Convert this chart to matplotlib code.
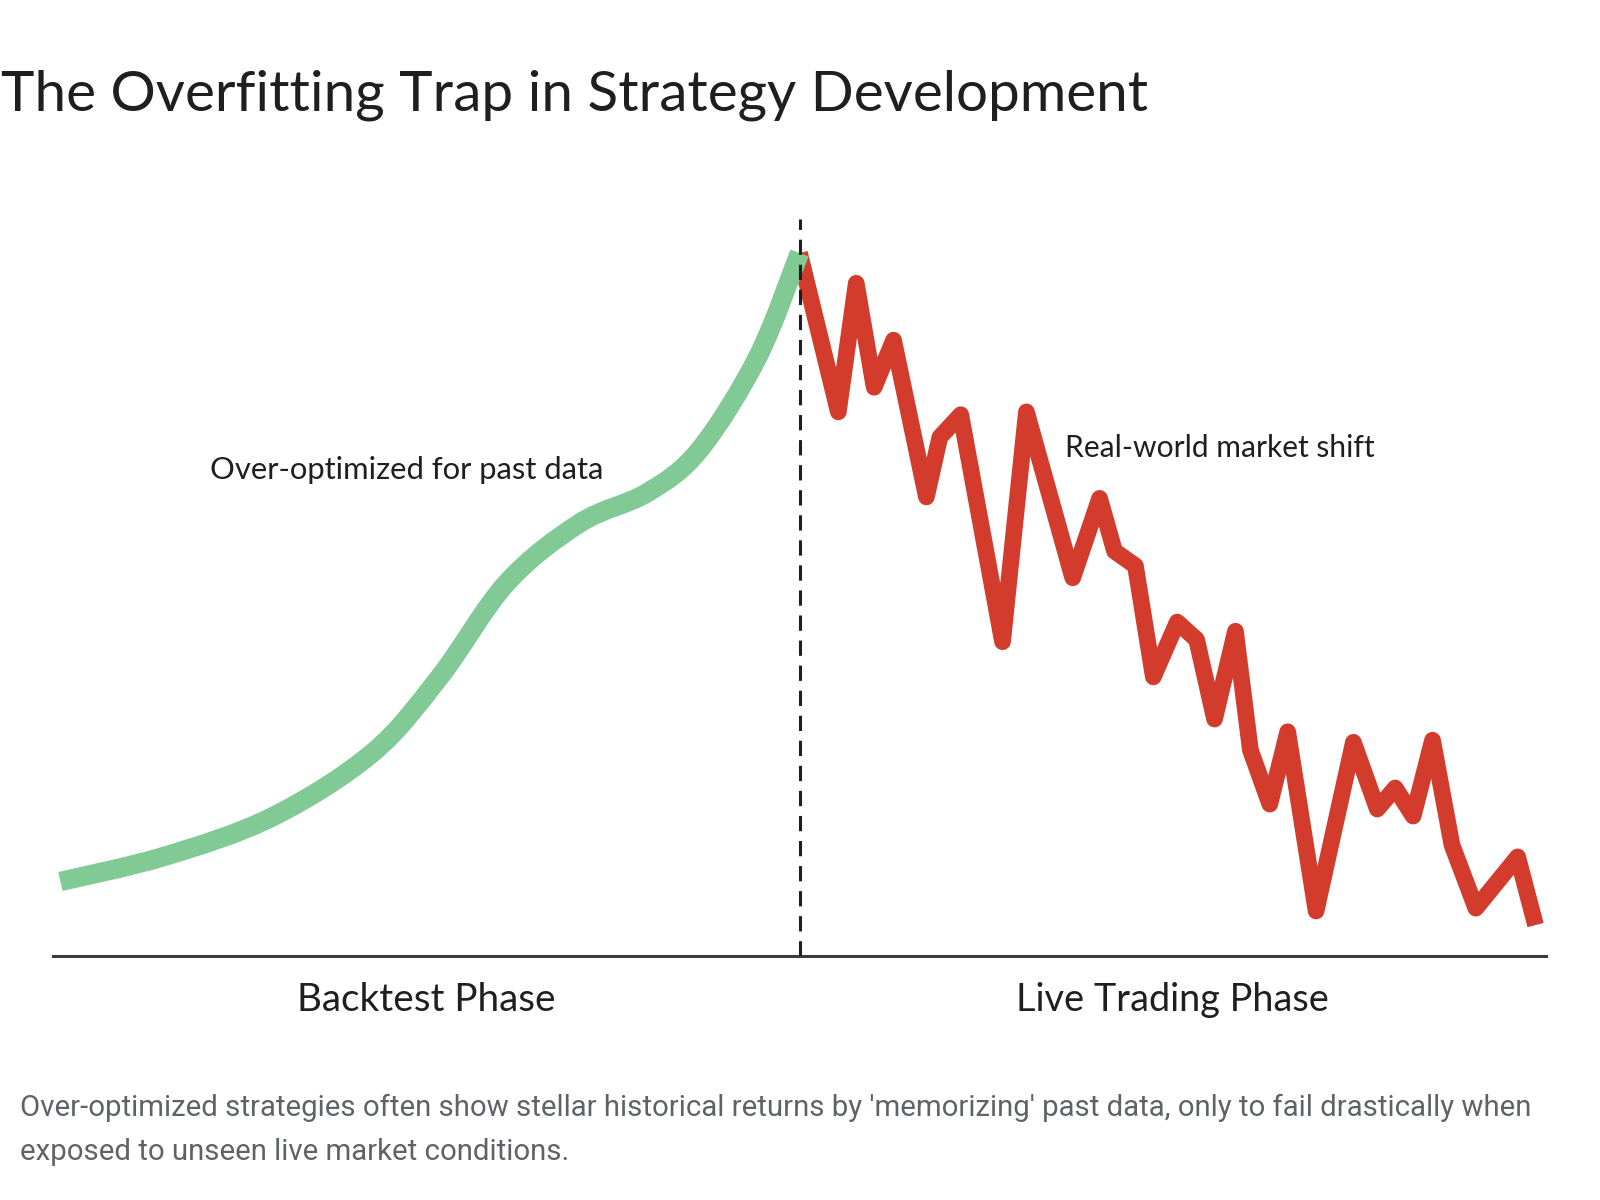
import matplotlib
matplotlib.use("Agg")
import matplotlib.pyplot as plt
from matplotlib.path import Path
from matplotlib.patches import PathPatch

# ---------------- data ----------------
# x: time (0-100, phase switch at 50), y: strategy equity (peak = 100)
backtest_x = [0.5, 7.5, 14.7, 21.4, 25.9, 30.4, 35.3, 39.8, 43.3, 47.2, 50.0]
backtest_y = [10.6, 14.2, 19.8, 28.9, 39.7, 53.1, 61.6, 65.9, 72.0, 85.2, 100.0]

live_x = [50.0, 52.6, 53.8, 55.0, 56.3, 58.5, 59.4, 60.8, 63.6, 65.2, 68.3,
          70.1, 71.1, 72.5, 73.7, 75.3, 76.6, 77.8, 79.2, 80.2, 81.5, 82.7,
          84.6, 87.1, 88.7, 89.9, 91.1, 92.4, 93.7, 95.3, 98.1, 99.3]
live_y = [100.0, 77.4, 95.7, 80.9, 87.6, 65.3, 73.8, 77.0, 44.7, 77.4, 53.8,
          65.1, 57.6, 55.5, 39.7, 47.5, 45.0, 33.7, 46.2, 29.3, 21.6, 31.9,
          6.4, 30.4, 20.9, 23.9, 19.9, 30.7, 15.8, 6.8, 14.1, 4.4]

phase_labels = ["Backtest Phase", "Live Trading Phase"]
phase_centers = [25, 75]
split_x = 50

title = "The Overfitting Trap in Strategy Development"
note_backtest = "Over-optimized for past data"
note_live = "Real-world market shift"
caption_lines = [
    "Over-optimized strategies often show stellar historical returns by 'memorizing' past data, only to fail drastically when",
    "exposed to unseen live market conditions.",
]

# ---------------- figure ----------------
W, H = 1600, 1200
fig = plt.figure(figsize=(16, 12), dpi=100)
fig.patch.set_facecolor("white")

ax_left, ax_right, ax_bottom, ax_top = 53, 1546, 956, 200
ax = fig.add_axes([ax_left / W, 1 - ax_bottom / H,
                   (ax_right - ax_left) / W, (ax_bottom - ax_top) / H])
ax.set_xlim(0, 100)
ax.set_ylim(0, (ax_bottom - ax_top) / 7.03)
ax.axis("off")
ax.patch.set_alpha(0)

GREEN = "#81c995"
RED = "#d33b2c"


def smooth_path(xs, ys):
    """Catmull-Rom spline through the points, as cubic Bezier segments."""
    pts = list(zip(xs, ys))
    verts = [pts[0]]
    codes = [Path.MOVETO]
    n = len(pts)
    for i in range(n - 1):
        p0 = pts[i - 1] if i > 0 else pts[i]
        p1 = pts[i]
        p2 = pts[i + 1]
        p3 = pts[i + 2] if i + 2 < n else pts[i + 1]
        c1 = (p1[0] + (p2[0] - p0[0]) / 6, p1[1] + (p2[1] - p0[1]) / 6)
        c2 = (p2[0] - (p3[0] - p1[0]) / 6, p2[1] - (p3[1] - p1[1]) / 6)
        verts += [c1, c2, p2]
        codes += [Path.CURVE4] * 3
    return Path(verts, codes)


ax.plot(live_x, live_y, color=RED, lw=12, solid_capstyle="butt",
        solid_joinstyle="round", zorder=3)
ax.add_patch(PathPatch(smooth_path(backtest_x, backtest_y), facecolor="none",
                       edgecolor=GREEN, lw=14, capstyle="butt",
                       joinstyle="round", zorder=4))
ax.plot([split_x, split_x], [0, 104.8], color="#1f1f1f", lw=2.2,
        linestyle=(0, (5, 3.2)), zorder=5)
ax.axhline(0, color="#3c3c3c", lw=2.2, zorder=2, clip_on=False)

renderer = fig.canvas.get_renderer()


def fit(t, target_px):
    for _ in range(3):
        w = t.get_window_extent(renderer=renderer).width
        t.set_fontsize(t.get_fontsize() * target_px / w)


LABEL_FONT = ["Lato", "DejaVu Sans"]

t1 = ax.text((210 - ax_left) / 14.93, (ax_bottom - 479) / 7.03, note_backtest,
             ha="left", va="baseline", fontsize=20, color="#1f1f1f",
             family=LABEL_FONT)
fit(t1, 393)
t2 = ax.text((1065 - ax_left) / 14.93, (ax_bottom - 457) / 7.03, note_live,
             ha="left", va="baseline", fontsize=20, color="#1f1f1f",
             family=LABEL_FONT)
fit(t2, 310)

widths = [258, 313]
for lab, cx, wpx in zip(phase_labels, phase_centers, widths):
    t = ax.text(cx, (ax_bottom - 1011) / (ax_bottom - ax_top), lab,
                transform=ax.get_xaxis_transform(), ha="center",
                va="baseline", fontsize=26, color="#1f1f1f",
                family=LABEL_FONT)
    fit(t, wpx)

tt = fig.text(1 / W, 1 - 110.5 / H, title, ha="left", va="baseline",
              fontsize=40, color="#1f1f1f", family=LABEL_FONT)
fit(tt, 1147)

CAP_FONT = ["Roboto", "DejaVu Sans"]
c1 = fig.text(20 / W, 1 - 1116 / H, caption_lines[0], ha="left",
              va="baseline", fontsize=18, color="#5f6368", family=CAP_FONT)
fit(c1, 1514)
c2 = fig.text(20 / W, 1 - 1160 / H, caption_lines[1], ha="left",
              va="baseline", fontsize=c1.get_fontsize(), color="#5f6368",
              family=CAP_FONT)

fig.savefig("out.png", dpi=100, facecolor="white")
